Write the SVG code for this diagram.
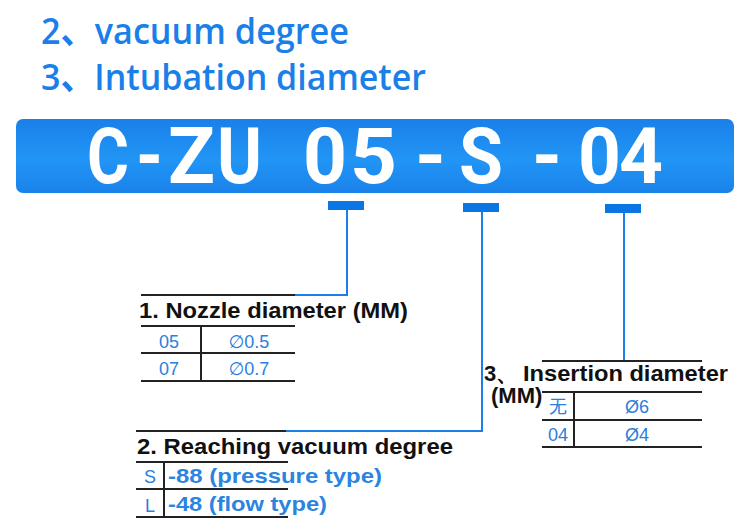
<svg xmlns="http://www.w3.org/2000/svg" width="750" height="531" viewBox="0 0 750 531">
<defs>
<linearGradient id="bannerGrad" x1="0" y1="0" x2="0" y2="1">
<stop offset="0" stop-color="#1a80e8"/>
<stop offset="0.55" stop-color="#2195f6"/>
<stop offset="1" stop-color="#1a82ea"/>
</linearGradient>
<style>
.head{font-family:"Open Sans","Noto Sans CJK SC",sans-serif;font-size:36px;font-weight:600;fill:#1a7fe8}
.code{font-family:Roboto,"Liberation Sans",sans-serif;font-weight:bold;font-size:77px;fill:#ffffff}
.mark{fill:#0a76e6}
.conn{fill:none;stroke:#1a7fe8;stroke-width:2}
.rule{stroke:#222;stroke-width:2}
.ttl{font-family:"Liberation Sans",Arial,sans-serif;font-weight:bold;font-size:22px;fill:#111}
.cell{font-family:"Liberation Sans","DejaVu Sans","Noto Sans CJK SC",sans-serif;font-size:18px;fill:#2a80dc;text-anchor:middle}
.bcell{font-family:"Liberation Sans",Arial,sans-serif;font-weight:bold;font-size:21px;fill:#2a84e0}
</style>
</defs>
<rect width="750" height="531" fill="#ffffff"/>

<g id="heading">
<text class="head" x="41" y="44" textLength="308" lengthAdjust="spacingAndGlyphs">2、vacuum degree</text>
<text class="head" x="41" y="90" textLength="385" lengthAdjust="spacingAndGlyphs">3、Intubation diameter</text>
</g>

<g id="banner">
<rect x="16" y="119" width="718" height="74" rx="7" fill="url(#bannerGrad)"/>
<text class="code" y="183"><tspan x="87" textLength="42" lengthAdjust="spacingAndGlyphs">C</tspan><tspan x="136" textLength="27" lengthAdjust="spacingAndGlyphs">-</tspan><tspan x="168" textLength="47" lengthAdjust="spacingAndGlyphs">Z</tspan><tspan x="217" textLength="45" lengthAdjust="spacingAndGlyphs">U</tspan><tspan x="303" textLength="44" lengthAdjust="spacingAndGlyphs">0</tspan><tspan x="350" textLength="47" lengthAdjust="spacingAndGlyphs">5</tspan><tspan x="415" textLength="31" lengthAdjust="spacingAndGlyphs">-</tspan><tspan x="459" textLength="44" lengthAdjust="spacingAndGlyphs">S</tspan><tspan x="532" textLength="30" lengthAdjust="spacingAndGlyphs">-</tspan><tspan x="578" textLength="43" lengthAdjust="spacingAndGlyphs">0</tspan><tspan x="619" textLength="44" lengthAdjust="spacingAndGlyphs">4</tspan></text>
</g>

<g id="marker-05"><rect class="mark" x="328" y="201" width="36" height="9"/></g>
<g id="marker-S"><rect class="mark" x="463" y="203" width="36" height="9"/></g>
<g id="marker-04"><rect class="mark" x="605" y="204" width="36" height="9"/></g>

<g id="connectors">
<path class="conn" d="M347 210 V295 H295"/>
<path class="conn" d="M482 212 V431 H286"/>
<path class="conn" d="M624 213 V361"/>
</g>

<g id="table-nozzle">
<line class="rule" x1="141" y1="295" x2="295" y2="295"/>
<text class="ttl" x="139" y="318" textLength="269" lengthAdjust="spacingAndGlyphs">1. Nozzle diameter (MM)</text>
<line class="rule" x1="141" y1="326" x2="295" y2="326"/>
<line class="rule" x1="141" y1="353" x2="295" y2="353"/>
<line class="rule" x1="141" y1="381" x2="295" y2="381"/>
<line class="rule" x1="201" y1="326" x2="201" y2="381"/>
<text class="cell" x="169" y="348">05</text>
<text class="cell" x="249" y="348">∅0.5</text>
<text class="cell" x="169" y="375">07</text>
<text class="cell" x="249" y="375">∅0.7</text>
</g>

<g id="table-vacuum">
<line class="rule" x1="136" y1="431" x2="286" y2="431"/>
<text class="ttl" x="137" y="454" textLength="316" lengthAdjust="spacingAndGlyphs">2. Reaching vacuum degree</text>
<line class="rule" x1="136" y1="462" x2="288" y2="462"/>
<line class="rule" x1="136" y1="489" x2="288" y2="489"/>
<line class="rule" x1="136" y1="517" x2="288" y2="517"/>
<line class="rule" x1="164" y1="462" x2="164" y2="517"/>
<text class="cell" x="150" y="483">S</text>
<text class="bcell" x="168" y="483" textLength="214" lengthAdjust="spacingAndGlyphs">-88 (pressure type)</text>
<text class="cell" x="150" y="512">L</text>
<text class="bcell" x="168" y="511" textLength="159" lengthAdjust="spacingAndGlyphs">-48 (flow type)</text>
</g>

<g id="table-insertion">
<line class="rule" x1="542" y1="361" x2="702" y2="361"/>
<text class="ttl" x="484" y="381">3、<tspan x="523" textLength="205" lengthAdjust="spacingAndGlyphs">Insertion diameter</tspan></text>
<text class="ttl" x="491" y="403">(MM)</text>
<line class="rule" x1="542" y1="392" x2="702" y2="392"/>
<line class="rule" x1="542" y1="420" x2="702" y2="420"/>
<line class="rule" x1="542" y1="447" x2="702" y2="447"/>
<line class="rule" x1="574" y1="392" x2="574" y2="447"/>
<text class="cell" x="558" y="413">无</text>
<text class="cell" x="637" y="413">Ø6</text>
<text class="cell" x="558" y="441">04</text>
<text class="cell" x="637" y="441">Ø4</text>
</g>
</svg>
